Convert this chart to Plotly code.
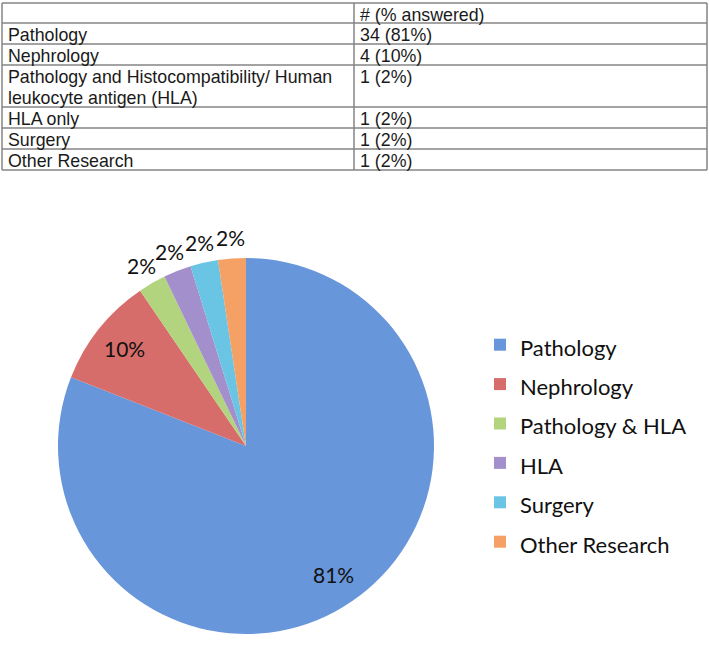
import math
import plotly.graph_objects as go

# ---- data ----
table_header = ["", "# (% answered)"]
table_categories = [
    "Pathology",
    "Nephrology",
    "Pathology and Histocompatibility/ Human<br>leukocyte antigen (HLA)",
    "HLA only",
    "Surgery",
    "Other Research",
]
table_counts = ["34 (81%)", "4 (10%)", "1 (2%)", "1 (2%)", "1 (2%)", "1 (2%)"]

pie_labels = ["Pathology", "Nephrology", "Pathology & HLA", "HLA", "Surgery", "Other Research"]
pie_values = [34, 4, 1, 1, 1, 1]
pie_colors = ["#6896DA", "#D66D6B", "#B3D47E", "#A38FCB", "#6AC4E4", "#F5A064"]

# ---- layout constants (pixels) ----
W, H = 709, 647
TBL_X = [2, 354, 707]          # left, column divider, right
TBL_TOP = 3
ROW_H = 21
HEADER_H = 20
PAD_X = 4
LINE_COL = "#858585"
TFONT = dict(family="Liberation Sans", size=17.8, color="#1a1a1a")

PIE_CX, PIE_CY, PIE_R = 246, 446, 188


def px(x):
    return x / W


def py(y):
    return 1 - y / H


fig = go.Figure()
shapes = []
annotations = []

# ---- table (drawn as cells) ----
rows = [table_header] + [[c, n] for c, n in zip(table_categories, table_counts)]
y = TBL_TOP
row_edges = [y]
for i, r in enumerate(rows):
    nlines = max(str(v).count("<br>") + 1 for v in r)
    h = HEADER_H if i == 0 else ROW_H * nlines
    for j, v in enumerate(r):
        if not v:
            continue
        for k, line in enumerate(str(v).split("<br>")):
            annotations.append(dict(
                x=px(TBL_X[j] + PAD_X), y=py(y + k * ROW_H), xref="paper", yref="paper",
                xanchor="left", yanchor="top", align="left", showarrow=False,
                text=line, font=TFONT,
            ))
    y += h
    row_edges.append(y)

for ye in row_edges:
    shapes.append(dict(type="line", xref="paper", yref="paper",
                       x0=px(TBL_X[0]), x1=px(TBL_X[-1]), y0=py(ye), y1=py(ye),
                       line=dict(color=LINE_COL, width=1.5)))
for xe in TBL_X:
    shapes.append(dict(type="line", xref="paper", yref="paper",
                       x0=px(xe), x1=px(xe), y0=py(row_edges[0]), y1=py(row_edges[-1]),
                       line=dict(color=LINE_COL, width=1.5)))

# ---- pie ----
legend_names = [f"<span style='font-size:22px'>{n}</span>" for n in pie_labels]

fig.add_trace(go.Pie(
    labels=legend_names,
    values=pie_values,
    sort=False,
    direction="clockwise",
    rotation=0,
    marker=dict(colors=pie_colors, line=dict(width=0)),
    textinfo="none",
    hovertemplate="%{label}: %{value} (%{percent})<extra></extra>",
    domain=dict(x=[px(PIE_CX - PIE_R), px(PIE_CX + PIE_R)],
                y=[py(PIE_CY + PIE_R), py(PIE_CY - PIE_R)]),
    showlegend=True,
))

# percentage labels placed at each slice's mid-angle
total = sum(pie_values)
cum = 0
for i, v in enumerate(pie_values):
    theta = 2 * math.pi * (cum + v / 2) / total
    cum += v
    frac = v / total
    rr = PIE_R * (0.83 if frac > 0.05 else 1.11)
    lx = PIE_CX + rr * math.sin(theta)
    ly = PIE_CY - rr * math.cos(theta)
    annotations.append(dict(
        x=px(lx), y=py(ly), xref="paper", yref="paper",
        xanchor="center", yanchor="middle", showarrow=False,
        text=f"{round(frac * 100)}%",
        font=dict(family="Lato", size=21, color="#111111"),
    ))

fig.update_layout(
    width=W,
    height=H,
    margin=dict(l=0, r=0, t=0, b=0),
    paper_bgcolor="white",
    plot_bgcolor="white",
    shapes=shapes,
    annotations=annotations,
    legend=dict(
        x=px(480),
        y=py(320),
        xanchor="left",
        yanchor="top",
        font=dict(family="Lato", size=28, color="#111111"),
        bgcolor="rgba(0,0,0,0)",
    ),
)

fig.write_html("out.html", config={"displayModeBar": False},
               post_script="document.body.style.margin='0px';")
